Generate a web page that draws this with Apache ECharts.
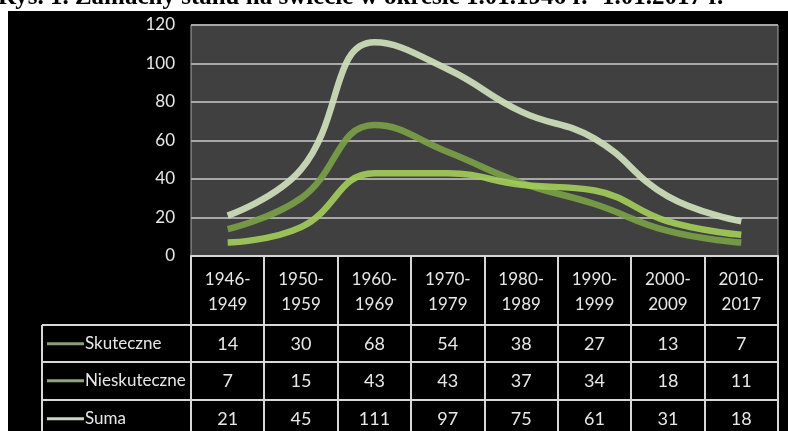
<!DOCTYPE html>
<html>
<head>
    <meta charset="utf-8">
    <script src="https://cdn.jsdelivr.net/npm/echarts@6/dist/echarts.min.js"></script>
</head>
<body style="margin:0;background:#fff;">
    <div id="main" style="width: 788px;height:431px;"></div>
    <script type="text/javascript">
        // dane z wykresu
        var title = 'Rys. 1. Zamachy stanu na świecie w okresie 1.01.1946 r.- 1.01.2017 r.';
        var periods = ['1946-\n1949', '1950-\n1959', '1960-\n1969', '1970-\n1979', '1980-\n1989', '1990-\n1999', '2000-\n2009', '2010-\n2017'];
        var seriesNames = ['Skuteczne', 'Nieskuteczne', 'Suma'];
        var skuteczne = [14, 30, 68, 54, 38, 27, 13, 7];
        var nieskuteczne = [7, 15, 43, 43, 37, 34, 18, 11];
        var suma = [21, 45, 111, 97, 75, 61, 31, 18];
        var colors = ['#7a9f48', '#a2cc5a', '#cfe0bc'];
        var legendColors = ['#8a9f78', '#8fa57d', '#c9d6c0'];

        var font = 'Lato, "Open Sans", sans-serif';
        var myChart = echarts.init(document.getElementById('main'));
        var allData = [skuteczne, nieskuteczne, suma];

        var option = {
            animation: false,
            grid: {
                left: 191, right: 10, top: 25, bottom: 175,
                show: true,
                backgroundColor: '#404040',
                borderColor: '#a8a8a8',
                borderWidth: 1
            },
            xAxis: {
                type: 'category',
                data: periods,
                boundaryGap: true,
                axisLine: { lineStyle: { color: '#d8d8d8', width: 2 } },
                axisTick: { show: false },
                axisLabel: {
                    color: '#e8e8e8',
                    fontFamily: font,
                    fontSize: 17,
                    lineHeight: 25,
                    margin: 11
                }
            },
            yAxis: {
                type: 'value',
                min: 0, max: 120, interval: 20,
                axisLine: { show: false },
                axisTick: { show: false },
                axisLabel: { color: '#e8e8e8', fontFamily: font, fontSize: 17, margin: 16 },
                splitLine: { lineStyle: { color: '#a8a8a8', width: 2 } }
            },
            series: allData.map(function (d, i) {
                return {
                    name: seriesNames[i],
                    type: 'line',
                    smooth: 0.45,
                    data: d,
                    symbol: 'none',
                    z: i === 0 ? 3 : (i === 1 ? 4 : 5),
                    lineStyle: { color: colors[i], width: 6.5, opacity: 0.92 }
                };
            })
        };
        myChart.setOption(option);

        // tabela danych pod wykresem
        var els = [];
        els.push({ type: 'rect', shape: { x: 8, y: 11, width: 780, height: 420 }, style: { fill: '#000' }, z: -10, silent: true });
        els.push({
            type: 'text', x: -2, y: -2, z: 10,
            style: { text: title, fill: '#000', font: 'bold 25px "Liberation Serif", serif', verticalAlign: 'middle' }
        });
        var xs = periods.map(function (p, i) { return myChart.convertToPixel({ xAxisIndex: 0 }, i); });
        var colW = xs[1] - xs[0];
        var right = 778;
        var rowTop = [325, 362, 400];
        var rowH = 37.5;
        var lineSt = { stroke: '#d8d8d8', lineWidth: 2 };
        // linie pionowe
        for (var k = 0; k <= periods.length; k++) {
            var x = Math.round(xs[0] - colW / 2 + k * colW);
            els.push({ type: 'line', shape: { x1: x, y1: 256, x2: x, y2: 431 }, style: lineSt });
        }
        els.push({ type: 'line', shape: { x1: 42, y1: rowTop[0], x2: 42, y2: 431 }, style: lineSt });
        rowTop.forEach(function (y) {
            els.push({ type: 'line', shape: { x1: 42, y1: y, x2: right, y2: y }, style: lineSt });
        });
        seriesNames.forEach(function (name, r) {
            var cy = rowTop[r] + rowH / 2;
            els.push({ type: 'line', shape: { x1: 47, y1: cy, x2: 84, y2: cy }, style: { stroke: legendColors[r], lineWidth: 3 } });
            els.push({ type: 'text', x: 85, y: cy, style: { text: name, fill: '#e8e8e8', font: '17px ' + font, verticalAlign: 'middle' } });
            allData[r].forEach(function (v, i) {
                els.push({ type: 'text', x: xs[i], y: cy, style: { text: String(v), fill: '#e8e8e8', font: '18px ' + font, align: 'center', verticalAlign: 'middle' } });
            });
        });
        myChart.setOption({ graphic: { elements: els } });
    </script>
</body>
</html>
